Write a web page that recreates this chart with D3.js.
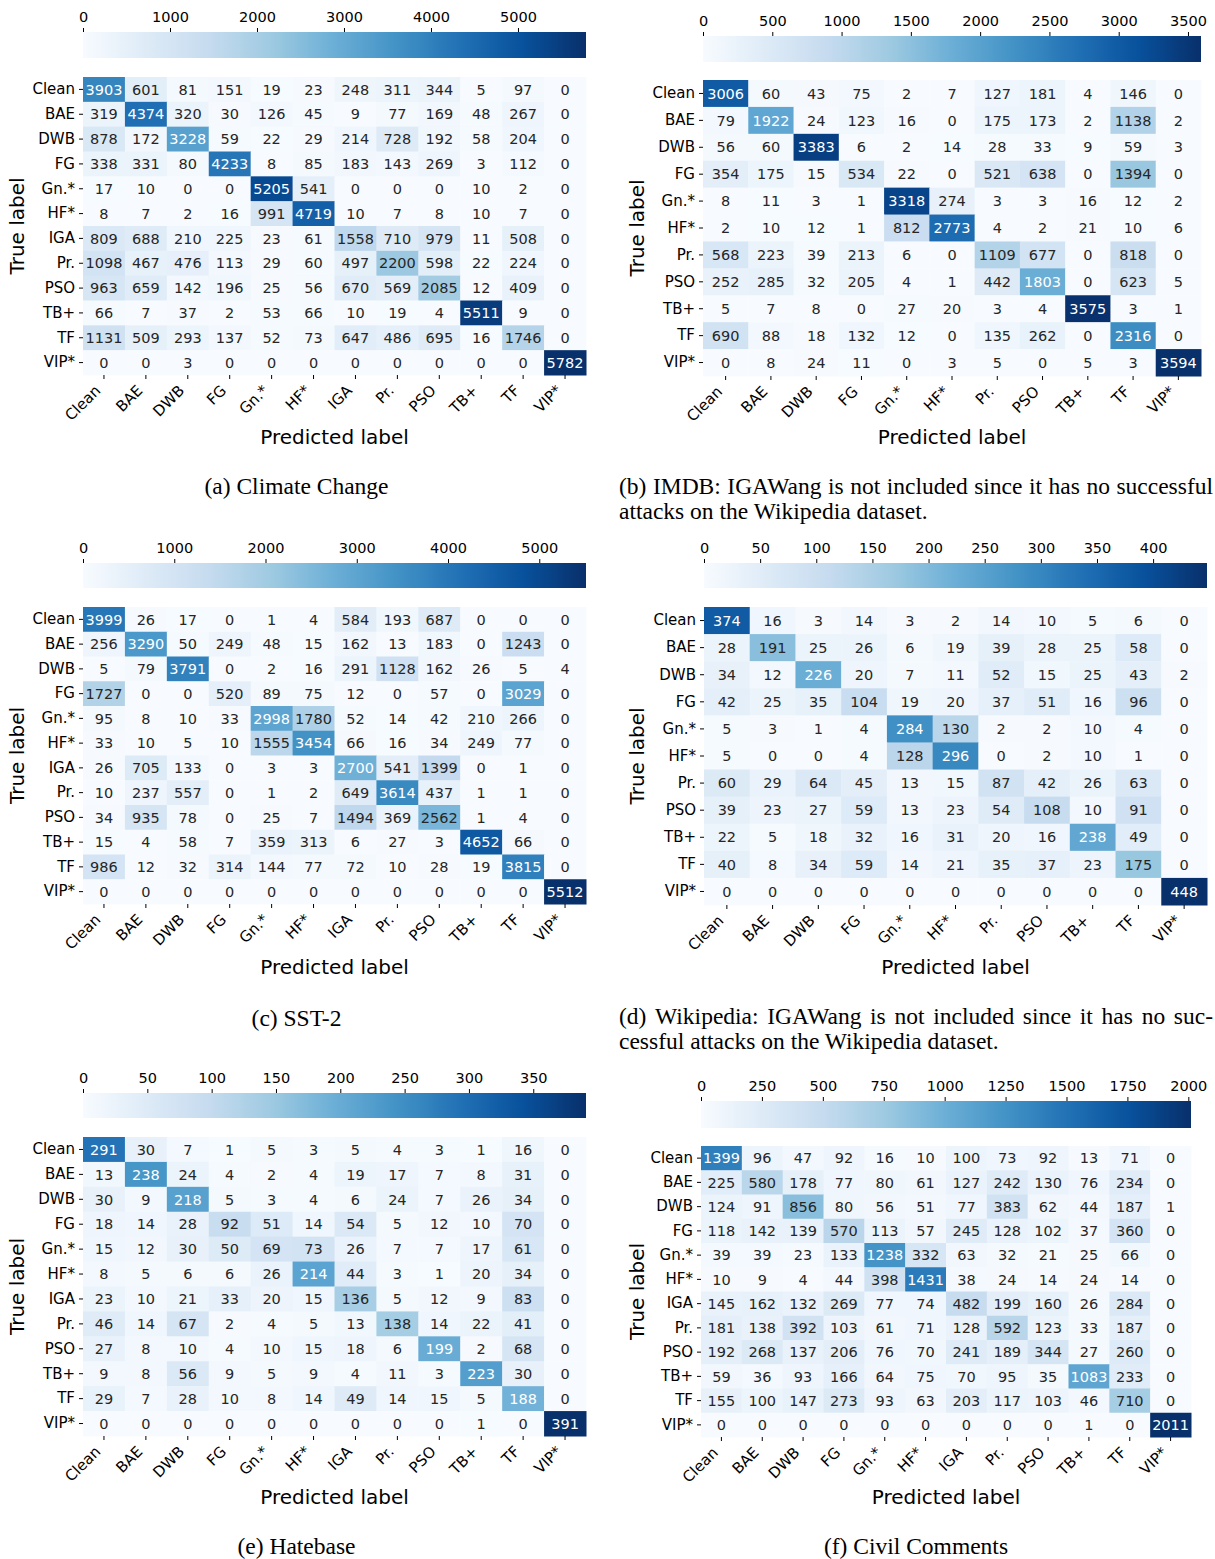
<!DOCTYPE html>
<html><head><meta charset="utf-8">
<script src="https://cdn.jsdelivr.net/npm/d3@7"></script>
<style>body{margin:0;background:#fff} svg{display:block}</style>
</head><body>
<svg id="fig" width="1215" height="1559"></svg>
<script>
// ---------- DATA ----------
const labelsAll = ["Clean","BAE","DWB","FG","Gn.*","HF*","IGA","Pr.","PSO","TB+","TF","VIP*"];
const labelsNoIGA = ["Clean","BAE","DWB","FG","Gn.*","HF*","Pr.","PSO","TB+","TF","VIP*"];

const climateChange = [
 [3903,601,81,151,19,23,248,311,344,5,97,0],
 [319,4374,320,30,126,45,9,77,169,48,267,0],
 [878,172,3228,59,22,29,214,728,192,58,204,0],
 [338,331,80,4233,8,85,183,143,269,3,112,0],
 [17,10,0,0,5205,541,0,0,0,10,2,0],
 [8,7,2,16,991,4719,10,7,8,10,7,0],
 [809,688,210,225,23,61,1558,710,979,11,508,0],
 [1098,467,476,113,29,60,497,2200,598,22,224,0],
 [963,659,142,196,25,56,670,569,2085,12,409,0],
 [66,7,37,2,53,66,10,19,4,5511,9,0],
 [1131,509,293,137,52,73,647,486,695,16,1746,0],
 [0,0,3,0,0,0,0,0,0,0,0,5782]
];
const imdb = [
 [3006,60,43,75,2,7,127,181,4,146,0],
 [79,1922,24,123,16,0,175,173,2,1138,2],
 [56,60,3383,6,2,14,28,33,9,59,3],
 [354,175,15,534,22,0,521,638,0,1394,0],
 [8,11,3,1,3318,274,3,3,16,12,2],
 [2,10,12,1,812,2773,4,2,21,10,6],
 [568,223,39,213,6,0,1109,677,0,818,0],
 [252,285,32,205,4,1,442,1803,0,623,5],
 [5,7,8,0,27,20,3,4,3575,3,1],
 [690,88,18,132,12,0,135,262,0,2316,0],
 [0,8,24,11,0,3,5,0,5,3,3594]
];
const sst2 = [
 [3999,26,17,0,1,4,584,193,687,0,0,0],
 [256,3290,50,249,48,15,162,13,183,0,1243,0],
 [5,79,3791,0,2,16,291,1128,162,26,5,4],
 [1727,0,0,520,89,75,12,0,57,0,3029,0],
 [95,8,10,33,2998,1780,52,14,42,210,266,0],
 [33,10,5,10,1555,3454,66,16,34,249,77,0],
 [26,705,133,0,3,3,2700,541,1399,0,1,0],
 [10,237,557,0,1,2,649,3614,437,1,1,0],
 [34,935,78,0,25,7,1494,369,2562,1,4,0],
 [15,4,58,7,359,313,6,27,3,4652,66,0],
 [986,12,32,314,144,77,72,10,28,19,3815,0],
 [0,0,0,0,0,0,0,0,0,0,0,5512]
];
const wikipedia = [
 [374,16,3,14,3,2,14,10,5,6,0],
 [28,191,25,26,6,19,39,28,25,58,0],
 [34,12,226,20,7,11,52,15,25,43,2],
 [42,25,35,104,19,20,37,51,16,96,0],
 [5,3,1,4,284,130,2,2,10,4,0],
 [5,0,0,4,128,296,0,2,10,1,0],
 [60,29,64,45,13,15,87,42,26,63,0],
 [39,23,27,59,13,23,54,108,10,91,0],
 [22,5,18,32,16,31,20,16,238,49,0],
 [40,8,34,59,14,21,35,37,23,175,0],
 [0,0,0,0,0,0,0,0,0,0,448]
];
const hatebase = [
 [291,30,7,1,5,3,5,4,3,1,16,0],
 [13,238,24,4,2,4,19,17,7,8,31,0],
 [30,9,218,5,3,4,6,24,7,26,34,0],
 [18,14,28,92,51,14,54,5,12,10,70,0],
 [15,12,30,50,69,73,26,7,7,17,61,0],
 [8,5,6,6,26,214,44,3,1,20,34,0],
 [23,10,21,33,20,15,136,5,12,9,83,0],
 [46,14,67,2,4,5,13,138,14,22,41,0],
 [27,8,10,4,10,15,18,6,199,2,68,0],
 [9,8,56,9,5,9,4,11,3,223,30,0],
 [29,7,28,10,8,14,49,14,15,5,188,0],
 [0,0,0,0,0,0,0,0,0,1,0,391]
];
const civilComments = [
 [1399,96,47,92,16,10,100,73,92,13,71,0],
 [225,580,178,77,80,61,127,242,130,76,234,0],
 [124,91,856,80,56,51,77,383,62,44,187,1],
 [118,142,139,570,113,57,245,128,102,37,360,0],
 [39,39,23,133,1238,332,63,32,21,25,66,0],
 [10,9,4,44,398,1431,38,24,14,24,14,0],
 [145,162,132,269,77,74,482,199,160,26,284,0],
 [181,138,392,103,61,71,128,592,123,33,187,0],
 [192,268,137,206,76,70,241,189,344,27,260,0],
 [59,36,93,166,64,75,70,95,35,1083,233,0],
 [155,100,147,273,93,63,203,117,103,46,710,0],
 [0,0,0,0,0,0,0,0,0,1,0,2011]
];

const ticksClimate = [0,1000,2000,3000,4000,5000];
const ticksImdb = [0,500,1000,1500,2000,2500,3000,3500];
const ticksSst2 = [0,1000,2000,3000,4000,5000];
const ticksWiki = [0,50,100,150,200,250,300,350,400];
const ticksHate = [0,50,100,150,200,250,300,350];
const ticksCivil = [0,250,500,750,1000,1250,1500,1750,2000];

const captionA = ["(a) Climate Change"];
const captionB = ["(b) IMDB: IGAWang is not included since it has no successful", "attacks on the Wikipedia dataset."];
const captionC = ["(c) SST-2"];
const captionD = ["(d) Wikipedia: IGAWang is not included since it has no suc-", "cessful attacks on the Wikipedia dataset."];
const captionE = ["(e) Hatebase"];
const captionF = ["(f) Civil Comments"];

const xTitle = "Predicted label";
const yTitle = "True label";

// ---------- LAYOUT ----------
const panels = [
 {data: climateChange, labels: labelsAll, ticks: ticksClimate, caption: captionA,
  x0: 83, x1: 586, cb0: 32, cb1: 58, h0: 77, h1: 375, yt: 17, xtY: 437, colL: 0, colR: 593, capY: 494},
 {data: imdb, labels: labelsNoIGA, ticks: ticksImdb, caption: captionB,
  x0: 703, x1: 1201, cb0: 36, cb1: 62, h0: 80, h1: 376, yt: 637, xtY: 437, colL: 619, colR: 1213, capY: 494},
 {data: sst2, labels: labelsAll, ticks: ticksSst2, caption: captionC,
  x0: 83, x1: 586, cb0: 563, cb1: 588, h0: 607, h1: 904, yt: 17, xtY: 967, colL: 0, colR: 593, capY: 1026},
 {data: wikipedia, labels: labelsNoIGA, ticks: ticksWiki, caption: captionD,
  x0: 704, x1: 1207, cb0: 563, cb1: 588, h0: 607, h1: 905, yt: 637, xtY: 967, colL: 619, colR: 1213, capY: 1024},
 {data: hatebase, labels: labelsAll, ticks: ticksHate, caption: captionE,
  x0: 83, x1: 586, cb0: 1093, cb1: 1118, h0: 1137, h1: 1436, yt: 17, xtY: 1497, colL: 0, colR: 593, capY: 1554},
 {data: civilComments, labels: labelsAll, ticks: ticksCivil, caption: captionF,
  x0: 701, x1: 1191, cb0: 1101, cb1: 1128, h0: 1146, h1: 1437, yt: 637, xtY: 1497, colL: 619, colR: 1213, capY: 1554}
];

const SANS = "'DejaVu Sans', sans-serif";
const SERIF = "'Liberation Serif', 'Times New Roman', serif";
const bluesStops = ["#f7fbff","#deebf7","#c6dbef","#9ecae1","#6baed6","#4292c6","#2171b5","#08519c","#08306b"];

function relLum(c) {
  const r = d3.rgb(c);
  const f = v => { v /= 255; return v <= 0.03928 ? v / 12.92 : Math.pow((v + 0.055) / 1.055, 2.4); };
  return 0.2126 * f(r.r) + 0.7152 * f(r.g) + 0.0722 * f(r.b);
}

const svg = d3.select("#fig");
svg.append("rect").attr("width", 1215).attr("height", 1559).attr("fill", "#fff");

panels.forEach((p, pi) => {
  const g = svg.append("g");
  const flat = p.data.flat();
  const vmin = d3.min(flat), vmax = d3.max(flat);
  const color = d3.scaleLinear()
    .domain(bluesStops.map((_, i) => vmin + (vmax - vmin) * i / (bluesStops.length - 1)))
    .range(bluesStops).interpolate(d3.interpolateRgb).clamp(true);

  const x = d3.scaleBand().domain(p.labels).range([p.x0, p.x1]);
  const y = d3.scaleBand().domain(p.labels).range([p.h0, p.h1]);

  // cells
  const cells = [];
  p.data.forEach((row, i) => row.forEach((v, j) => cells.push({r: p.labels[i], c: p.labels[j], v})));
  g.selectAll("rect.cell").data(cells).join("rect")
    .attr("x", d => x(d.c)).attr("y", d => y(d.r))
    .attr("width", x.bandwidth() + 0.5).attr("height", y.bandwidth() + 0.5)
    .attr("fill", d => color(d.v));
  g.selectAll("text.ann").data(cells).join("text")
    .attr("x", d => x(d.c) + x.bandwidth() / 2)
    .attr("y", d => y(d.r) + y.bandwidth() / 2)
    .attr("dy", "0.36em")
    .attr("text-anchor", "middle")
    .style("font-family", SANS).style("font-size", "14.5px")
    .attr("fill", d => relLum(color(d.v)) > 0.408 ? "#262626" : "#ffffff")
    .text(d => d.v);

  // y axis
  const ya = g.append("g").attr("transform", `translate(${p.x0},0)`)
    .call(d3.axisLeft(y).tickSize(4).tickPadding(4));
  ya.select(".domain").remove();
  ya.selectAll("line").attr("stroke", "#000").attr("stroke-width", 1);
  ya.selectAll("text").style("font-family", SANS).style("font-size", "15px").attr("fill", "#000");

  // x axis
  const xa = g.append("g").attr("transform", `translate(0,${p.h1})`)
    .call(d3.axisBottom(x).tickSize(4).tickPadding(4));
  xa.select(".domain").remove();
  xa.selectAll("line").attr("stroke", "#000").attr("stroke-width", 1);
  xa.selectAll("text").style("font-family", SANS).style("font-size", "15px").attr("fill", "#000")
    .attr("y", 0).attr("dy", null)
    .attr("transform", "translate(-2.5,16.5) rotate(-45)")
    .style("text-anchor", "end");

  // axis titles
  g.append("text").attr("x", (p.x0 + p.x1) / 2).attr("y", p.xtY).attr("dy", "0.36em")
    .attr("text-anchor", "middle").style("font-family", SANS).style("font-size", "20px").text(xTitle);
  g.append("text").attr("transform", `translate(${p.yt},${(p.h0 + p.h1) / 2}) rotate(-90)`)
    .attr("dy", "0.36em").attr("text-anchor", "middle")
    .style("font-family", SANS).style("font-size", "20px").text(yTitle);

  // colorbar
  const cbScale = d3.scaleLinear().domain([vmin, vmax]).range([p.x0, p.x1]);
  const gid = "grad" + pi;
  const grad = svg.append("defs").append("linearGradient").attr("id", gid)
    .attr("x1", "0%").attr("x2", "100%").attr("y1", "0%").attr("y2", "0%");
  d3.range(0, 65).forEach(k => {
    const t = k / 64;
    grad.append("stop").attr("offset", (t * 100) + "%").attr("stop-color", color(vmin + t * (vmax - vmin)));
  });
  g.append("rect").attr("x", p.x0).attr("y", p.cb0).attr("width", p.x1 - p.x0).attr("height", p.cb1 - p.cb0)
    .attr("fill", `url(#${gid})`);
  const ca = g.append("g").attr("transform", `translate(0,${p.cb0})`)
    .call(d3.axisTop(cbScale).tickValues(p.ticks).tickFormat(d3.format("d")).tickSize(4).tickPadding(6));
  ca.select(".domain").remove();
  ca.selectAll("line").attr("stroke", "#000");
  ca.selectAll("text").style("font-family", SANS).style("font-size", "14.5px").attr("fill", "#000");

  // caption
  const lineH = 25;
  const capFont = "23.5px";
  p.caption.forEach((line, li) => {
    const yy = p.capY + li * lineH;
    const justify = p.caption.length > 1 && li < p.caption.length - 1;
    if (p.caption.length === 1) {
      g.append("text").attr("x", (p.colL + p.colR) / 2).attr("y", yy).attr("text-anchor", "middle")
        .style("font-family", SERIF).style("font-size", capFont).text(line);
    } else if (!justify) {
      g.append("text").attr("x", p.colL).attr("y", yy)
        .style("font-family", SERIF).style("font-size", capFont).text(line);
    } else {
      const words = line.split(" ");
      const ts = words.map(w => g.append("text").attr("y", yy)
        .style("font-family", SERIF).style("font-size", capFont).text(w));
      const widths = ts.map(t => t.node().getComputedTextLength());
      const gap = (p.colR - p.colL - d3.sum(widths)) / (words.length - 1);
      let cx = p.colL;
      ts.forEach((t, k) => { t.attr("x", cx); cx += widths[k] + gap; });
    }
  });
});
</script>
</body></html>
